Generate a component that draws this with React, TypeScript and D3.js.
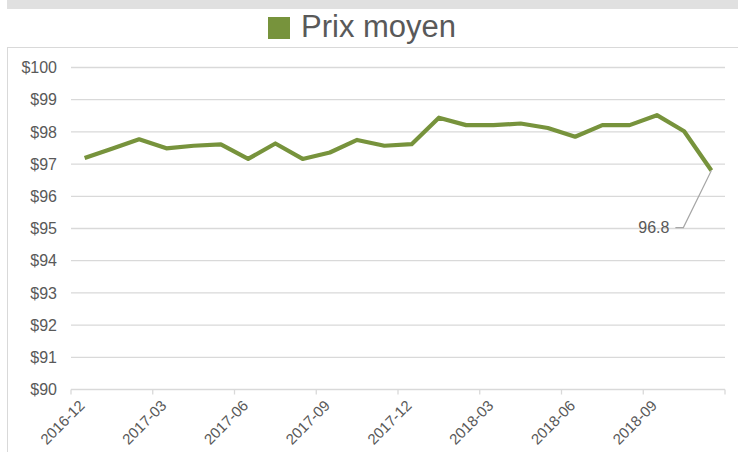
import React, { useEffect, useRef } from "react";
import * as d3 from "d3";

// monthly average price, 2016-12 .. 2018-11
const months = [
  "2016-12", "2017-01", "2017-02", "2017-03", "2017-04", "2017-05",
  "2017-06", "2017-07", "2017-08", "2017-09", "2017-10", "2017-11",
  "2017-12", "2018-01", "2018-02", "2018-03", "2018-04", "2018-05",
  "2018-06", "2018-07", "2018-08", "2018-09", "2018-10", "2018-11",
];
const prices = [
  97.19, 97.48, 97.77, 97.49, 97.57, 97.61,
  97.16, 97.64, 97.16, 97.36, 97.75, 97.57,
  97.62, 98.44, 98.21, 98.21, 98.26, 98.12,
  97.85, 98.21, 98.21, 98.52, 98.02, 96.8,
];
const yTicks = [90, 91, 92, 93, 94, 95, 96, 97, 98, 99, 100];
const seriesName = "Prix moyen";

const W = 738;
const H = 452;
const TEXT = "#595959";
const GRID = "#d9d9d9";
const GREEN = "#77933c";
const FONT = "Liberation Sans, Arial, sans-serif";

const App = () => {
  const ref = useRef<SVGSVGElement>(null);

  useEffect(() => {
    const svg = d3.select(ref.current);
    svg.selectAll("*").remove();

    // Create scales
    const x = d3.scaleBand().domain(months).range([71, 725]).padding(0);
    const y = d3.scaleLinear().domain([90, 100]).range([389.5, 67.5]);
    const cx = (m: string) => (x(m) as number) + x.bandwidth() / 2;

    // top band and chart frame
    svg.append("rect")
      .attr("x", 7).attr("y", 0).attr("width", W - 7).attr("height", 9)
      .attr("fill", "#e0e0e0");
    svg.append("rect")
      .attr("x", 7.5).attr("y", 47.5).attr("width", W).attr("height", H)
      .attr("fill", "#fff").attr("stroke", GRID);

    // legend
    const lx = 268;
    svg.append("rect")
      .attr("x", lx).attr("y", 17).attr("width", 22).attr("height", 22)
      .attr("fill", GREEN);
    svg.append("text")
      .attr("x", lx + 33).attr("y", 36.5)
      .attr("font-family", FONT)
      .attr("font-size", 31)
      .attr("fill", TEXT)
      .text(seriesName);

    // gridlines
    svg.append("g")
      .selectAll("line")
      .data(yTicks.filter((d) => d !== 90))
      .enter()
      .append("line")
      .attr("x1", 71).attr("x2", 725)
      .attr("y1", (d) => y(d)).attr("y2", (d) => y(d))
      .attr("stroke", GRID).attr("stroke-width", 1.3);

    // y labels
    svg.append("g")
      .selectAll("text")
      .data(yTicks)
      .enter()
      .append("text")
      .attr("x", 57)
      .attr("y", (d) => y(d))
      .attr("dy", "0.36em")
      .attr("text-anchor", "end")
      .attr("font-family", FONT)
      .attr("font-size", 16)
      .attr("fill", TEXT)
      .text((d) => "$" + d);

    // x axis line + tick marks every 3 months
    svg.append("line")
      .attr("x1", 71).attr("x2", 725)
      .attr("y1", y(90)).attr("y2", y(90))
      .attr("stroke", GRID).attr("stroke-width", 1.3);
    const tickIdx = d3.range(0, months.length + 1, 3);
    svg.append("g")
      .selectAll("line")
      .data(tickIdx)
      .enter()
      .append("line")
      .attr("x1", (i) => 71 + i * x.bandwidth())
      .attr("x2", (i) => 71 + i * x.bandwidth())
      .attr("y1", y(90)).attr("y2", y(90) + 5)
      .attr("stroke", GRID).attr("stroke-width", 1.3);

    // x labels
    svg.append("g")
      .selectAll("text")
      .data(months.filter((d, i) => i % 3 === 0))
      .enter()
      .append("text")
      .attr("transform", (d) => `translate(${cx(d) + 1},${y(90) + 17}) rotate(-45)`)
      .attr("text-anchor", "end")
      .attr("font-family", FONT)
      .attr("font-size", 15)
      .attr("fill", TEXT)
      .text((d) => d);

    // the series line
    const line = d3
      .line<number>()
      .x((d, i) => cx(months[i]))
      .y((d) => y(d));
    svg.append("path")
      .datum(prices)
      .attr("d", line)
      .attr("fill", "none")
      .attr("stroke", GREEN)
      .attr("stroke-width", 4.2)
      .attr("stroke-linejoin", "round");

    // data label on last point with leader line
    const last = prices.length - 1;
    const px = cx(months[last]);
    const py = y(prices[last]);
    svg.append("polyline")
      .attr("points", `${px - 36},${py + 57} ${px - 28},${py + 57} ${px},${py}`)
      .attr("fill", "none")
      .attr("stroke", "#a6a6a6")
      .attr("stroke-width", 1.2);
    svg.append("text")
      .attr("x", px - 42).attr("y", py + 62)
      .attr("text-anchor", "end")
      .attr("font-family", FONT)
      .attr("font-size", 16)
      .attr("fill", TEXT)
      .text(String(prices[last]));
  }, []);

  return (
    <svg
      ref={ref}
      width={W}
      height={H}
      style={{ position: "absolute", left: 0, top: 0, background: "#fff" }}
    />
  );
};

export default App;
